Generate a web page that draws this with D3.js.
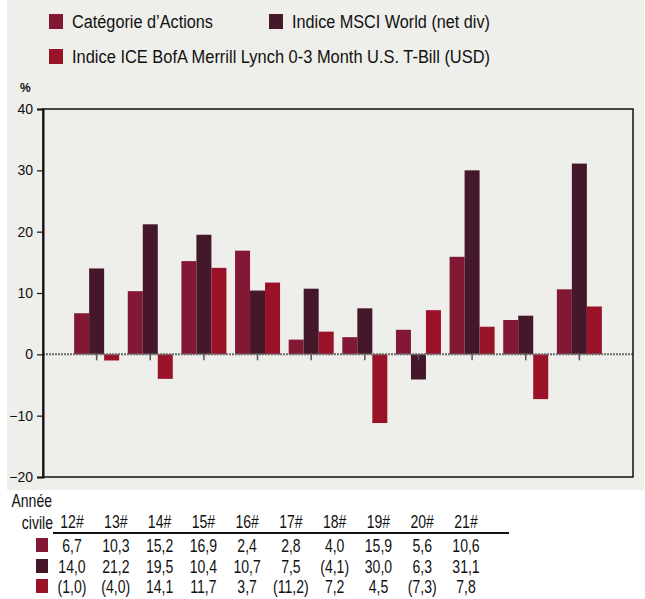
<!DOCTYPE html>
<html>
<head>
<meta charset="utf-8">
<script src="https://cdn.jsdelivr.net/npm/d3@7"></script>
<style>
  html, body { margin: 0; padding: 0; background: #ffffff; }
  svg { display: block; }
  text { font-family: "Liberation Sans", Arial, sans-serif; fill: #111; }
</style>
</head>
<body>
<div id="chart"></div>
<script>
// years, as written under the chart
const years = ["12#", "13#", "14#", "15#", "16#", "17#", "18#", "19#", "20#", "21#"];

const seriesNames = [
    "Catégorie d’Actions",
    "Indice MSCI World (net div)",
    "Indice ICE BofA Merrill Lynch 0-3 Month U.S. T-Bill (USD)"
];
const seriesColors = ["#821834", "#45172a", "#9a1228"];

const categorie = [6.7, 10.3, 15.2, 16.9, 2.4, 2.8, 4.0, 15.9, 5.6, 10.6];
const msci = [14.0, 21.2, 19.5, 10.4, 10.7, 7.5, -4.1, 30.0, 6.3, 31.1];
const tbill = [-1.0, -4.0, 14.1, 11.7, 3.7, -11.2, 7.2, 4.5, -7.3, 7.8];

const yTicks = [40, 30, 20, 10, 0, -10, -20];

const allSeries = [categorie, msci, tbill];

const width = 645, height = 599;
const plot = { left: 43, right: 633, top: 109, bottom: 477 };
const narrow = 0.78; // the original uses a condensed face

const svg = d3.select("#chart")
    .append("svg")
    .attr("width", width)
    .attr("height", height);

// grey panel behind chart
svg.append("rect")
    .attr("x", 7).attr("y", 0)
    .attr("width", 637).attr("height", 490)
    .attr("fill", "#eeeeea");

const x = d3.scalePoint()
    .domain(years)
    .range([plot.left, plot.right])
    .padding(1);

const y = d3.scaleLinear()
    .domain([-20, 40])
    .range([plot.bottom, plot.top]);

const barW = 15;

// bars
allSeries.forEach((vals, si) => {
    svg.append("g")
        .selectAll("rect")
        .data(vals)
        .join("rect")
        .attr("x", (d, i) => x(years[i]) + (si - 1.5) * barW)
        .attr("y", d => y(Math.max(0, d)))
        .attr("width", barW)
        .attr("height", d => Math.abs(y(d) - y(0)))
        .attr("fill", seriesColors[si]);
});

// zero line (dotted)
svg.append("line")
    .attr("x1", plot.left).attr("x2", plot.right)
    .attr("y1", y(0)).attr("y2", y(0))
    .attr("stroke", "#6b6b6b")
    .attr("stroke-width", 2)
    .attr("stroke-dasharray", "2,1");

// small category ticks below zero
svg.append("g")
    .selectAll("line")
    .data(years)
    .join("line")
    .attr("x1", d => x(d)).attr("x2", d => x(d))
    .attr("y1", y(0)).attr("y2", y(0) + 6)
    .attr("stroke", "#555")
    .attr("stroke-width", 1.5);

// frame
svg.append("rect")
    .attr("x", plot.left).attr("y", plot.top)
    .attr("width", plot.right - plot.left)
    .attr("height", plot.bottom - plot.top)
    .attr("fill", "none")
    .attr("stroke", "#111")
    .attr("stroke-width", 1.5);

// y axis
const yAxis = svg.append("g")
    .attr("transform", `translate(${plot.left},0)`)
    .call(d3.axisLeft(y).tickValues(yTicks).tickSize(6).tickPadding(4).tickFormat(d3.format("d")));
yAxis.select(".domain").attr("stroke", "#111").attr("stroke-width", 2);
yAxis.selectAll(".tick line").attr("stroke", "#111").attr("stroke-width", 1.2);
yAxis.selectAll(".tick text")
    .style("font-size", "14px")
    .attr("fill", "#222");

svg.append("text")
    .attr("x", 20).attr("y", 92)
    .style("font-size", "12px")
    .style("font-weight", "bold")
    .text("%");

// legend
const legendPos = [
    { x: 49, y: 14, w: 141 },
    { x: 269, y: 14, w: 198 },
    { x: 49, y: 49, w: 418 }
];
seriesNames.forEach((name, i) => {
    const g = svg.append("g").attr("transform", `translate(${legendPos[i].x},${legendPos[i].y})`);
    g.append("rect")
        .attr("width", 14).attr("height", 15)
        .attr("fill", seriesColors[i]);
    g.append("text")
        .attr("x", 23).attr("y", 14)
        .attr("textLength", legendPos[i].w)
        .attr("lengthAdjust", "spacingAndGlyphs")
        .style("font-size", "18px")
        .text(name);
});

// data table below the chart
const col = d3.scalePoint()
    .domain(years)
    .range([72, 466]);

function cell(px, py, txt, anchor) {
    svg.append("text")
        .attr("transform", `translate(${px},${py}) scale(${narrow},1)`)
        .attr("text-anchor", anchor)
        .style("font-size", "18px")
        .text(txt);
}

cell(52, 507, "Année", "end");
cell(53, 529, "civile", "end");

years.forEach(yr => cell(col(yr), 528, yr, "middle"));

svg.append("line")
    .attr("x1", 53).attr("x2", 509)
    .attr("y1", 533).attr("y2", 533)
    .attr("stroke", "#111")
    .attr("stroke-width", 2);

const fmt = v => {
    const s = Math.abs(v).toFixed(1).replace(".", ",");
    return v < 0 ? `(${s})` : s;
};

const rowBase = [552, 573, 593];
allSeries.forEach((vals, si) => {
    svg.append("rect")
        .attr("x", 36).attr("y", rowBase[si] - 14)
        .attr("width", 12).attr("height", 14)
        .attr("fill", seriesColors[si]);
    vals.forEach((v, i) => cell(col(years[i]), rowBase[si], fmt(v), "middle"));
});
</script>
</body>
</html>
